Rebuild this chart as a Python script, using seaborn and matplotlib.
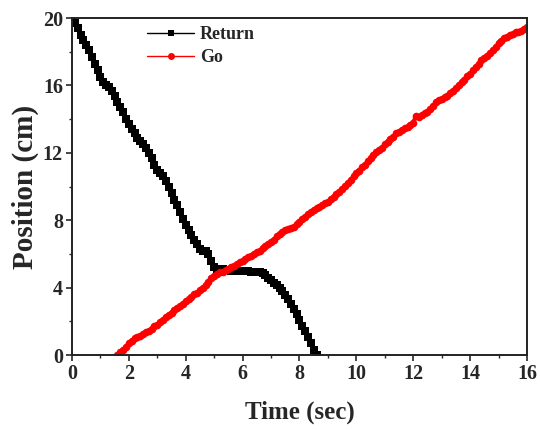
import numpy as np
import pandas as pd
import matplotlib
matplotlib.use("Agg")
import matplotlib.pyplot as plt
import seaborn as sns
from matplotlib.ticker import MultipleLocator

# ---- data ----
return_time = [0.0, 0.1, 0.2, 0.3, 0.4, 0.5, 0.6, 0.7, 0.8, 0.9,
               1.0, 1.1, 1.2, 1.3, 1.4, 1.5, 1.6, 1.7, 1.8, 1.9,
               2.0, 2.1, 2.2, 2.3, 2.4, 2.5, 2.6, 2.7, 2.8, 2.9,
               3.0, 3.1, 3.2, 3.3, 3.4, 3.5, 3.6, 3.7, 3.8, 3.9,
               4.0, 4.1, 4.2, 4.3, 4.4, 4.5, 4.6, 4.7, 4.8, 4.9,
               5.0, 5.1, 5.2, 5.3, 5.4, 5.5, 5.6, 5.7, 5.8, 5.9,
               6.0, 6.1, 6.2, 6.3, 6.4, 6.5, 6.6, 6.7, 6.8, 6.9,
               7.0, 7.1, 7.2, 7.3, 7.4, 7.5, 7.6, 7.7, 7.8, 7.9,
               8.0, 8.1, 8.2, 8.3, 8.4, 8.5, 8.6]
return_pos = [20.0, 19.7, 19.4, 19.0, 18.7, 18.4, 18.1, 17.7, 17.3, 16.9,
              16.5, 16.2, 16.0, 15.9, 15.7, 15.4, 15.0, 14.7, 14.4, 14.0,
              13.7, 13.4, 13.2, 12.9, 12.7, 12.5, 12.3, 12.0, 11.7, 11.3,
              11.0, 10.8, 10.6, 10.3, 10.0, 9.6, 9.2, 8.9, 8.5, 8.1,
              7.7, 7.4, 7.1, 6.8, 6.6, 6.3, 6.2, 6.2, 6.0, 5.6,
              5.2, 5.1, 5.1, 5.1, 5.05, 5.05, 5.0, 5.0, 5.0, 5.0,
              5.0, 5.0, 5.0, 4.95, 4.95, 4.9, 4.9, 4.85, 4.75, 4.6,
              4.45, 4.3, 4.15, 4.0, 3.8, 3.55, 3.3, 3.05, 2.75, 2.45,
              2.1, 1.75, 1.4, 1.05, 0.7, 0.3, 0.0]

go_time = [1.6, 1.7, 1.8, 1.9, 2.0, 2.1, 2.2, 2.3, 2.4, 2.5, 2.6, 2.7, 2.8, 2.9,
           3.0, 3.1, 3.2, 3.3, 3.4, 3.5, 3.6, 3.7, 3.8, 3.9,
           4.0, 4.1, 4.2, 4.3, 4.4, 4.5, 4.6, 4.7, 4.8, 4.9,
           5.0, 5.1, 5.2, 5.3, 5.4, 5.5, 5.6, 5.7, 5.8, 5.9,
           6.0, 6.1, 6.2, 6.3, 6.4, 6.5, 6.6, 6.7, 6.8, 6.9,
           7.0, 7.1, 7.2, 7.3, 7.4, 7.5, 7.6, 7.7, 7.8, 7.9,
           8.0, 8.1, 8.2, 8.3, 8.4, 8.5, 8.6, 8.7, 8.8, 8.9,
           9.0, 9.1, 9.2, 9.3, 9.4, 9.5, 9.6, 9.7, 9.8, 9.9,
           10.0, 10.1, 10.2, 10.3, 10.4, 10.5, 10.6, 10.7, 10.8, 10.9,
           11.0, 11.1, 11.2, 11.3, 11.4, 11.5, 11.6, 11.7, 11.8, 11.9,
           12.0, 12.1, 12.2, 12.3, 12.4, 12.5, 12.6, 12.7, 12.8, 12.9,
           13.0, 13.1, 13.2, 13.3, 13.4, 13.5, 13.6, 13.7, 13.8, 13.9,
           14.0, 14.1, 14.2, 14.3, 14.4, 14.5, 14.6, 14.7, 14.8, 14.9,
           15.0, 15.1, 15.2, 15.3, 15.4, 15.5, 15.6, 15.7, 15.8, 15.9, 16.0]
go_pos = [0.0, 0.15, 0.3, 0.5, 0.7, 0.85, 1.0, 1.05, 1.1, 1.25, 1.35, 1.45, 1.55, 1.7,
          1.8, 1.95, 2.1, 2.25, 2.4, 2.5, 2.65, 2.8, 2.9, 3.05,
          3.2, 3.3, 3.45, 3.6, 3.7, 3.86, 4.0, 4.15, 4.35, 4.55,
          4.7, 4.8, 4.9, 4.95, 5.05, 5.1, 5.2, 5.3, 5.4, 5.5,
          5.6, 5.7, 5.8, 5.9, 6.0, 6.1, 6.2, 6.35, 6.45, 6.6,
          6.7, 6.85, 7.05, 7.2, 7.3, 7.4, 7.5, 7.55, 7.62, 7.75,
          7.9, 8.05, 8.2, 8.35, 8.5, 8.61, 8.7, 8.8, 8.9, 9.0,
          9.1, 9.25, 9.4, 9.55, 9.69, 9.85, 10.05, 10.2, 10.4, 10.6,
          10.78, 10.95, 11.15, 11.3, 11.5, 11.7, 11.85, 12.05, 12.15, 12.3,
          12.5, 12.65, 12.8, 12.95, 13.15, 13.25, 13.35, 13.45, 13.55, 13.65,
          13.8, 14.2, 14.15, 14.25, 14.35, 14.45, 14.6, 14.8, 15.0, 15.13,
          15.2, 15.3, 15.4, 15.55, 15.7, 15.85, 16.0, 16.2, 16.35, 16.55,
          16.7, 16.9, 17.1, 17.3, 17.5, 17.65, 17.75, 17.95, 18.1, 18.3,
          18.5, 18.65, 18.8, 18.9, 19.0, 19.05, 19.15, 19.2, 19.25, 19.35, 19.45]

series_names = ["Return", "Go"]
x_ticks = [0, 2, 4, 6, 8, 10, 12, 14, 16]
y_ticks = [0, 4, 8, 12, 16, 20]

df = pd.concat([
    pd.DataFrame({"Time": return_time, "Position": return_pos, "Series": "Return"}),
    pd.DataFrame({"Time": go_time, "Position": go_pos, "Series": "Go"}),
], ignore_index=True)

sns.set_style("white")
plt.rcParams["font.family"] = ["Liberation Serif", "DejaVu Serif"]
plt.rcParams["font.weight"] = "bold"

fig = plt.figure(figsize=(5.4, 4.3), dpi=100)
ax = fig.add_axes([0.1333, 0.1744, 0.8426, 0.7836])

sns.lineplot(data=df, x="Time", y="Position", hue="Series", style="Series",
             hue_order=series_names, style_order=series_names,
             palette={"Return": "black", "Go": "red"},
             markers={"Return": "s", "Go": "o"}, dashes=False,
             markersize=5.5, markeredgewidth=0, linewidth=3.0,
             sort=False, estimator=None, ax=ax, legend=True)

ax.set_xlim(0, 16)
ax.set_ylim(0, 20)
ax.set_xticks(x_ticks)
ax.set_yticks(y_ticks)
ax.xaxis.set_minor_locator(MultipleLocator(1))
ax.yaxis.set_minor_locator(MultipleLocator(2))
ax.tick_params(axis="both", which="major", direction="out", length=4.5, width=1.2,
               labelsize=14.5, pad=2, bottom=True, left=True, top=False, right=False)
ax.tick_params(axis="both", which="minor", direction="out", length=2.5, width=1.0,
               bottom=True, left=True, top=False, right=False)
for lab in ax.get_xticklabels() + ax.get_yticklabels():
    lab.set_fontweight("bold")
for sp in ax.spines.values():
    sp.set_linewidth(1.4)
    sp.set_color("#222222")

ax.set_xlabel("Time (sec)", fontsize=18, fontweight="bold", labelpad=12)
ax.set_ylabel("Position (cm)", fontsize=21, fontweight="bold", labelpad=3)

handles, labels = ax.get_legend_handles_labels()
leg = ax.legend(handles, labels, loc="upper left", bbox_to_anchor=(0.13, 1.025),
                frameon=False, handlelength=2.6, handletextpad=0.3,
                labelspacing=0.35, prop={"family": "Liberation Serif", "weight": "bold", "size": 13})
for h in leg.legend_handles:
    h.set_linewidth(1.0)
    h.set_markersize(5)

fig.savefig("out.png", dpi=100)
